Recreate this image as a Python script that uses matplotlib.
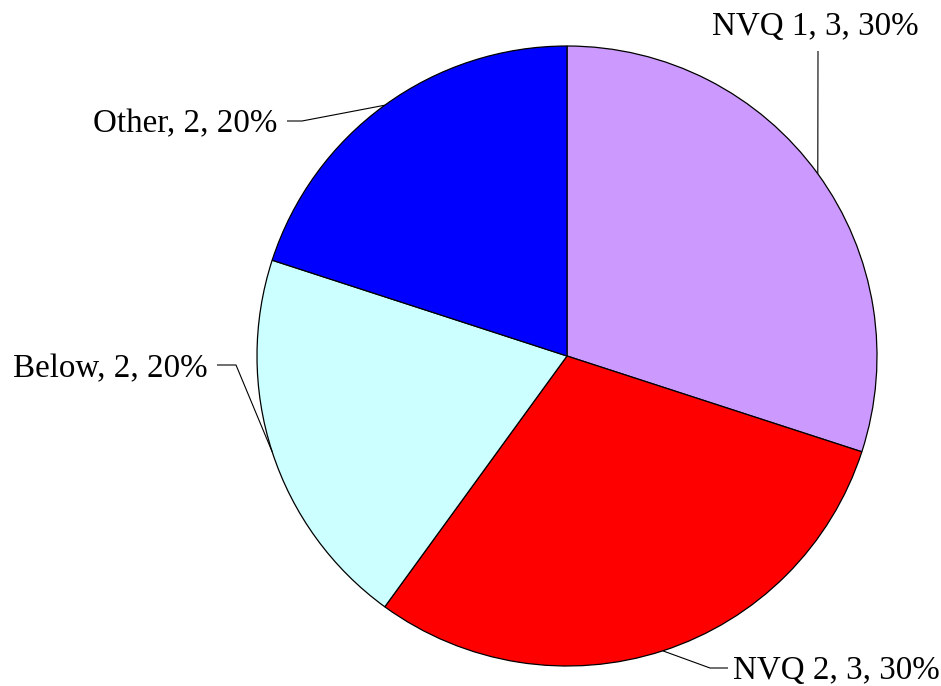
import numpy as np
import matplotlib.pyplot as plt

labels = ['NVQ 1', 'NVQ 2', 'Below', 'Other']
counts = [3, 3, 2, 2]
colors = ['#CC99FF', '#FF0000', '#CCFFFF', '#0000FF']

plt.rcParams['font.family'] = ['Liberation Serif', 'DejaVu Serif']

W, H = 941, 686
fig = plt.figure(figsize=(W / 100, H / 100), dpi=100)
ax = fig.add_axes([0, 0, 1, 1])

cx, cy, r = 567, H - 356, 310
wedges, _ = ax.pie(counts, colors=colors, startangle=90, counterclock=False,
                   center=(cx, cy), radius=r,
                   wedgeprops=dict(edgecolor='black', linewidth=0.9))
ax.set_xlim(0, W)
ax.set_ylim(0, H)
ax.axis('off')

# leader layout (pixel coords, y from top): elbow, line end, text anchor, ha
layout = [
    ((818, 51), (818, 51), (815.5, 35), 'center'),
    ((710, 668), (728, 668), (733, 679), 'left'),
    ((236, 365), (217, 365), (208, 377), 'right'),
    ((302, 121), (287, 121), (277, 132), 'right'),
]

total = sum(counts)
for w, lab, n, (elb, end, txt, ha) in zip(wedges, labels, counts, layout):
    ang = np.deg2rad((w.theta1 + w.theta2) / 2)
    ex, ey = cx + r * np.cos(ang), cy + r * np.sin(ang)
    ax.plot([ex, elb[0], end[0]], [ey, H - elb[1], H - end[1]],
            color='black', lw=0.8, solid_capstyle='butt')
    ax.text(txt[0], H - txt[1], f'{lab}, {n}, {round(100 * n / total)}%',
            ha=ha, va='baseline', fontsize=23.8)

fig.savefig('out.png', dpi=100, facecolor='white')
